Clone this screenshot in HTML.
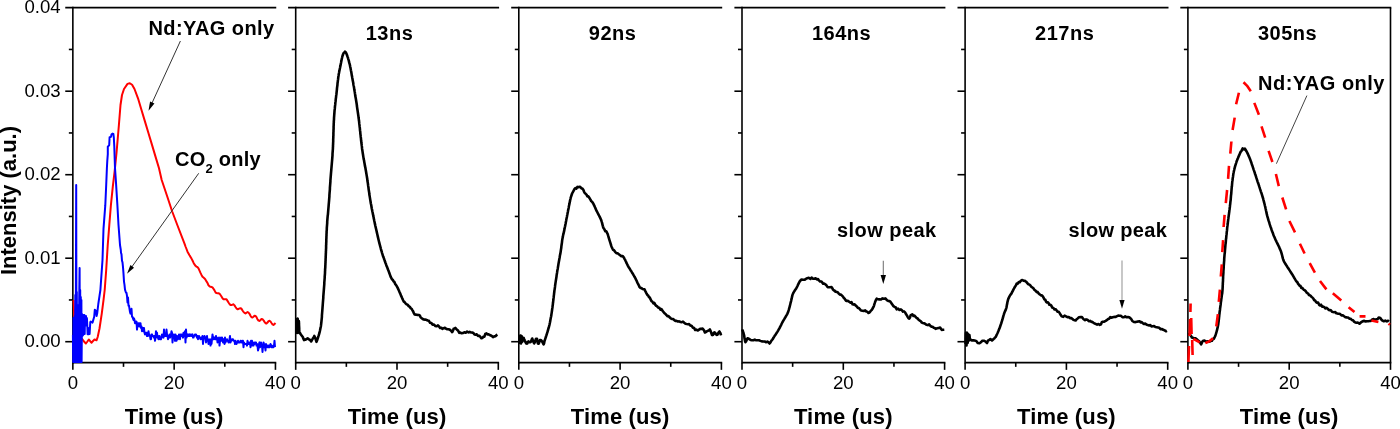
<!DOCTYPE html>
<html><head><meta charset="utf-8"><style>
html,body{margin:0;padding:0;background:#fff;width:1400px;height:429px;overflow:hidden}
svg{display:block;font-family:"Liberation Sans",sans-serif;will-change:transform}
</style></head><body>
<svg width="1400" height="429" viewBox="0 0 1400 429">
<g stroke="#000" stroke-width="1.6" fill="none"><line x1="72.85" y1="6.85" x2="72.85" y2="363.45"/><line x1="65.25" y1="7.65" x2="276.25" y2="7.65"/><line x1="72.85" y1="362.65" x2="276.25" y2="362.65"/><line x1="65.25" y1="91.20" x2="72.85" y2="91.20"/><line x1="65.25" y1="174.70" x2="72.85" y2="174.70"/><line x1="65.25" y1="258.20" x2="72.85" y2="258.20"/><line x1="65.25" y1="341.70" x2="72.85" y2="341.70"/><line x1="68.85" y1="49.45" x2="72.85" y2="49.45"/><line x1="68.85" y1="132.95" x2="72.85" y2="132.95"/><line x1="68.85" y1="216.45" x2="72.85" y2="216.45"/><line x1="68.85" y1="299.95" x2="72.85" y2="299.95"/><line x1="72.85" y1="362.65" x2="72.85" y2="369.85"/><line x1="174.15" y1="362.65" x2="174.15" y2="369.85"/><line x1="275.45" y1="362.65" x2="275.45" y2="369.85"/><line x1="123.50" y1="362.65" x2="123.50" y2="366.85"/><line x1="224.80" y1="362.65" x2="224.80" y2="366.85"/></g>
<g font-size="18.6" fill="#000"><text x="72.85" y="388.8" text-anchor="middle">0</text><text x="174.15" y="388.8" text-anchor="middle">20</text><text x="275.45" y="388.8" text-anchor="middle">40</text></g>
<text x="174.15" y="424" text-anchor="middle" font-size="22" font-weight="bold" letter-spacing="0.15">Time (us)</text>
<g stroke="#000" stroke-width="1.6" fill="none"><line x1="295.70" y1="6.85" x2="295.70" y2="363.45"/><line x1="288.10" y1="7.65" x2="499.10" y2="7.65"/><line x1="295.70" y1="362.65" x2="499.10" y2="362.65"/><line x1="288.10" y1="91.20" x2="295.70" y2="91.20"/><line x1="288.10" y1="174.70" x2="295.70" y2="174.70"/><line x1="288.10" y1="258.20" x2="295.70" y2="258.20"/><line x1="288.10" y1="341.70" x2="295.70" y2="341.70"/><line x1="291.70" y1="49.45" x2="295.70" y2="49.45"/><line x1="291.70" y1="132.95" x2="295.70" y2="132.95"/><line x1="291.70" y1="216.45" x2="295.70" y2="216.45"/><line x1="291.70" y1="299.95" x2="295.70" y2="299.95"/><line x1="295.70" y1="362.65" x2="295.70" y2="369.85"/><line x1="397.00" y1="362.65" x2="397.00" y2="369.85"/><line x1="498.30" y1="362.65" x2="498.30" y2="369.85"/><line x1="346.35" y1="362.65" x2="346.35" y2="366.85"/><line x1="447.65" y1="362.65" x2="447.65" y2="366.85"/></g>
<g font-size="18.6" fill="#000"><text x="295.70" y="388.8" text-anchor="middle">0</text><text x="397.00" y="388.8" text-anchor="middle">20</text><text x="498.30" y="388.8" text-anchor="middle">40</text></g>
<text x="397.00" y="424" text-anchor="middle" font-size="22" font-weight="bold" letter-spacing="0.15">Time (us)</text>
<g stroke="#000" stroke-width="1.6" fill="none"><line x1="518.80" y1="6.85" x2="518.80" y2="363.45"/><line x1="511.20" y1="7.65" x2="722.20" y2="7.65"/><line x1="518.80" y1="362.65" x2="722.20" y2="362.65"/><line x1="511.20" y1="91.20" x2="518.80" y2="91.20"/><line x1="511.20" y1="174.70" x2="518.80" y2="174.70"/><line x1="511.20" y1="258.20" x2="518.80" y2="258.20"/><line x1="511.20" y1="341.70" x2="518.80" y2="341.70"/><line x1="514.80" y1="49.45" x2="518.80" y2="49.45"/><line x1="514.80" y1="132.95" x2="518.80" y2="132.95"/><line x1="514.80" y1="216.45" x2="518.80" y2="216.45"/><line x1="514.80" y1="299.95" x2="518.80" y2="299.95"/><line x1="518.80" y1="362.65" x2="518.80" y2="369.85"/><line x1="620.10" y1="362.65" x2="620.10" y2="369.85"/><line x1="721.40" y1="362.65" x2="721.40" y2="369.85"/><line x1="569.45" y1="362.65" x2="569.45" y2="366.85"/><line x1="670.75" y1="362.65" x2="670.75" y2="366.85"/></g>
<g font-size="18.6" fill="#000"><text x="518.80" y="388.8" text-anchor="middle">0</text><text x="620.10" y="388.8" text-anchor="middle">20</text><text x="721.40" y="388.8" text-anchor="middle">40</text></g>
<text x="620.10" y="424" text-anchor="middle" font-size="22" font-weight="bold" letter-spacing="0.15">Time (us)</text>
<g stroke="#000" stroke-width="1.6" fill="none"><line x1="742.00" y1="6.85" x2="742.00" y2="363.45"/><line x1="734.40" y1="7.65" x2="945.40" y2="7.65"/><line x1="742.00" y1="362.65" x2="945.40" y2="362.65"/><line x1="734.40" y1="91.20" x2="742.00" y2="91.20"/><line x1="734.40" y1="174.70" x2="742.00" y2="174.70"/><line x1="734.40" y1="258.20" x2="742.00" y2="258.20"/><line x1="734.40" y1="341.70" x2="742.00" y2="341.70"/><line x1="738.00" y1="49.45" x2="742.00" y2="49.45"/><line x1="738.00" y1="132.95" x2="742.00" y2="132.95"/><line x1="738.00" y1="216.45" x2="742.00" y2="216.45"/><line x1="738.00" y1="299.95" x2="742.00" y2="299.95"/><line x1="742.00" y1="362.65" x2="742.00" y2="369.85"/><line x1="843.30" y1="362.65" x2="843.30" y2="369.85"/><line x1="944.60" y1="362.65" x2="944.60" y2="369.85"/><line x1="792.65" y1="362.65" x2="792.65" y2="366.85"/><line x1="893.95" y1="362.65" x2="893.95" y2="366.85"/></g>
<g font-size="18.6" fill="#000"><text x="742.00" y="388.8" text-anchor="middle">0</text><text x="843.30" y="388.8" text-anchor="middle">20</text><text x="944.60" y="388.8" text-anchor="middle">40</text></g>
<text x="843.30" y="424" text-anchor="middle" font-size="22" font-weight="bold" letter-spacing="0.15">Time (us)</text>
<g stroke="#000" stroke-width="1.6" fill="none"><line x1="965.10" y1="6.85" x2="965.10" y2="363.45"/><line x1="957.50" y1="7.65" x2="1168.50" y2="7.65"/><line x1="965.10" y1="362.65" x2="1168.50" y2="362.65"/><line x1="957.50" y1="91.20" x2="965.10" y2="91.20"/><line x1="957.50" y1="174.70" x2="965.10" y2="174.70"/><line x1="957.50" y1="258.20" x2="965.10" y2="258.20"/><line x1="957.50" y1="341.70" x2="965.10" y2="341.70"/><line x1="961.10" y1="49.45" x2="965.10" y2="49.45"/><line x1="961.10" y1="132.95" x2="965.10" y2="132.95"/><line x1="961.10" y1="216.45" x2="965.10" y2="216.45"/><line x1="961.10" y1="299.95" x2="965.10" y2="299.95"/><line x1="965.10" y1="362.65" x2="965.10" y2="369.85"/><line x1="1066.40" y1="362.65" x2="1066.40" y2="369.85"/><line x1="1167.70" y1="362.65" x2="1167.70" y2="369.85"/><line x1="1015.75" y1="362.65" x2="1015.75" y2="366.85"/><line x1="1117.05" y1="362.65" x2="1117.05" y2="366.85"/></g>
<g font-size="18.6" fill="#000"><text x="965.10" y="388.8" text-anchor="middle">0</text><text x="1066.40" y="388.8" text-anchor="middle">20</text><text x="1167.70" y="388.8" text-anchor="middle">40</text></g>
<text x="1066.40" y="424" text-anchor="middle" font-size="22" font-weight="bold" letter-spacing="0.15">Time (us)</text>
<g stroke="#000" stroke-width="1.6" fill="none"><line x1="1187.90" y1="6.85" x2="1187.90" y2="363.45"/><line x1="1180.30" y1="7.65" x2="1391.30" y2="7.65"/><line x1="1187.90" y1="362.65" x2="1391.30" y2="362.65"/><line x1="1180.30" y1="91.20" x2="1187.90" y2="91.20"/><line x1="1180.30" y1="174.70" x2="1187.90" y2="174.70"/><line x1="1180.30" y1="258.20" x2="1187.90" y2="258.20"/><line x1="1180.30" y1="341.70" x2="1187.90" y2="341.70"/><line x1="1183.90" y1="49.45" x2="1187.90" y2="49.45"/><line x1="1183.90" y1="132.95" x2="1187.90" y2="132.95"/><line x1="1183.90" y1="216.45" x2="1187.90" y2="216.45"/><line x1="1183.90" y1="299.95" x2="1187.90" y2="299.95"/><line x1="1187.90" y1="362.65" x2="1187.90" y2="369.85"/><line x1="1289.20" y1="362.65" x2="1289.20" y2="369.85"/><line x1="1390.50" y1="362.65" x2="1390.50" y2="369.85"/><line x1="1238.55" y1="362.65" x2="1238.55" y2="366.85"/><line x1="1339.85" y1="362.65" x2="1339.85" y2="366.85"/><line x1="1390.50" y1="7.65" x2="1390.50" y2="362.65"/></g>
<g font-size="18.6" fill="#000"><text x="1187.90" y="388.8" text-anchor="middle">0</text><text x="1289.20" y="388.8" text-anchor="middle">20</text><text x="1390.50" y="388.8" text-anchor="middle">40</text></g>
<text x="1289.20" y="424" text-anchor="middle" font-size="22" font-weight="bold" letter-spacing="0.15">Time (us)</text>
<g font-size="18.6" fill="#000"><text x="60.6" y="13.10" text-anchor="end">0.04</text><text x="60.6" y="96.60" text-anchor="end">0.03</text><text x="60.6" y="180.10" text-anchor="end">0.02</text><text x="60.6" y="263.60" text-anchor="end">0.01</text><text x="60.6" y="347.10" text-anchor="end">0.00</text></g>
<text transform="translate(16.3,200.5) rotate(-90)" text-anchor="middle" font-size="22" font-weight="bold">Intensity (a.u.)</text>
<text x="365.7" y="39.8" font-size="20" font-weight="bold" letter-spacing="0.5">13ns</text>
<text x="588.8" y="39.8" font-size="20" font-weight="bold" letter-spacing="0.5">92ns</text>
<text x="812.0" y="39.8" font-size="20" font-weight="bold" letter-spacing="0.5">164ns</text>
<text x="1035.1" y="39.8" font-size="20" font-weight="bold" letter-spacing="0.5">217ns</text>
<text x="1257.9" y="39.8" font-size="20" font-weight="bold" letter-spacing="0.5">305ns</text>
<polyline stroke="#ff0000" stroke-width="2" fill="none" stroke-linejoin="round" points="73.5,300.0 74.2,315.0 74.6,330.0 76.0,336.0 78.0,338.0 80.5,339.0 82.2,339.0 84.0,341.5 85.9,343.5 87.4,341.5 88.8,339.5 90.2,341.2 91.6,342.7 93.0,341.0 94.5,339.5 96.5,340.3 97.7,337.0 99.5,328.5 101.8,313.3 103.6,299.3 104.7,290.0 106.2,270.0 107.7,245.5 109.3,225.0 110.9,205.2 112.8,186.7 114.6,171.7 116.5,153.0 118.9,125.0 120.5,105.0 122.0,95.0 124.0,89.0 127.5,83.9 129.8,83.2 132.1,84.8 134.5,89.0 138.0,98.3 141.5,110.0 145.0,121.6 148.5,133.3 152.0,144.9 155.5,156.6 159.0,168.2 161.7,180.0 167.0,195.7 172.2,211.5 177.5,225.5 184.5,243.6 185.5,246.5 186.5,249.0 187.5,251.7 188.5,253.5 189.5,255.3 190.5,256.9 191.5,258.6 192.5,260.5 193.5,262.7 194.5,264.4 195.5,265.8 196.5,266.6 197.5,267.2 198.5,268.4 199.5,270.6 200.5,272.9 201.5,274.9 202.5,276.7 203.5,277.5 204.5,278.4 205.5,279.7 206.5,281.4 207.5,283.0 208.5,285.3 209.5,286.3 210.5,286.8 211.5,287.0 212.5,287.4 213.5,288.8 214.5,290.4 215.5,292.4 216.5,293.1 217.5,293.3 218.5,293.3 219.5,293.7 220.5,295.0 221.5,296.5 222.5,298.2 223.5,299.2 224.5,299.3 225.5,299.3 226.5,299.3 227.5,300.9 228.5,302.5 229.5,304.0 230.5,305.1 231.5,305.1 232.5,304.6 233.5,304.3 234.5,305.4 235.5,307.0 236.5,308.4 237.5,309.3 238.5,309.0 239.5,308.4 240.5,308.2 241.5,308.7 242.5,310.5 243.5,311.8 244.5,312.9 245.5,313.5 246.5,312.7 247.5,312.0 248.5,312.6 249.5,313.8 250.5,315.8 251.5,317.3 252.5,317.4 253.5,316.7 254.5,315.7 255.5,316.0 256.5,317.1 257.5,319.3 258.5,320.5 259.5,320.9 260.5,320.0 261.5,319.0 262.5,319.2 263.5,320.3 264.5,321.9 265.5,323.2 266.5,323.5 267.5,322.6 268.5,321.1 269.5,320.8 270.5,321.5 271.5,323.0 272.5,324.4 273.5,325.0 274.5,324.1 275.5,323.0"/>
<polyline stroke="#0000ff" stroke-width="2" fill="none" stroke-linejoin="round" points="72.9,335.0 73.2,362.0 73.5,318.0 73.8,362.0 74.1,320.0 74.4,362.0 74.7,316.0 75.0,362.0 75.3,295.0 75.6,362.0 75.9,290.0 76.2,185.0 76.5,362.0 76.8,292.0 77.1,362.0 77.4,305.0 77.7,362.0 78.0,306.0 78.3,362.0 78.6,305.0 78.9,362.0 79.2,300.0 79.6,268.0 79.9,362.0 80.2,290.0 80.5,362.0 80.8,297.0 81.1,362.0 81.4,300.0 81.6,362.0 82.0,314.0 82.4,336.0 82.8,315.0 83.2,335.0 83.6,315.0 84.0,334.0 84.4,315.0 84.7,334.0 85.0,316.0 85.5,325.5 86.0,316.0 86.5,325.5 86.9,318.0 87.3,326.0 87.6,334.3 88.4,334.3 89.0,328.0 89.6,334.0 90.3,322.0 90.7,321.5 92.5,322.6 94.2,316.8 94.8,309.8 96.0,311.0 96.6,316.0 97.2,313.3 98.3,304.0 99.5,295.8 100.4,290.0 102.5,260.0 103.5,228.8 105.3,205.2 106.2,185.0 106.9,168.0 107.3,160.6 107.8,154.1 107.8,146.6 109.2,145.2 109.6,137.3 111.0,136.9 111.5,134.5 112.4,133.6 113.4,134.0 113.8,137.3 114.3,146.6 114.6,155.9 115.0,168.0 115.9,181.1 117.4,205.2 118.5,225.0 120.0,245.0 120.8,250.0 121.0,252.8 121.5,254.4 122.0,260.8 122.5,262.4 123.0,267.2 123.5,273.6 124.0,281.6 124.5,284.8 125.0,289.6 125.5,291.2 126.0,292.8 126.5,292.8 127.0,296.0 127.5,302.4 128.0,297.6 128.5,305.6 129.0,305.6 129.5,308.8 130.0,312.0 130.5,313.6 131.0,312.0 131.5,308.8 132.0,316.8 132.5,316.8 133.0,318.4 133.5,320.0 134.0,318.4 134.5,320.0 135.0,323.2 135.5,321.6 136.0,323.2 136.5,321.6 137.0,329.6 137.5,323.2 138.0,324.8 138.5,323.2 139.0,326.4 139.5,326.4 140.0,323.2 140.5,323.2 141.0,328.0 141.5,326.4 142.0,331.2 142.5,329.6 143.0,328.0 143.5,331.2 144.0,328.0 144.5,332.8 145.0,334.4 145.5,332.8 146.0,334.4 146.5,332.8 147.0,336.0 147.5,336.0 148.0,336.0 148.5,331.2 149.0,334.4 149.5,334.4 150.0,336.0 150.5,339.2 151.0,339.2 151.5,336.0 152.0,334.4 152.5,336.0 153.0,336.0 153.5,336.0 154.0,337.6 154.5,336.0 155.0,340.8 155.5,337.6 156.0,331.2 156.5,336.0 157.0,332.8 157.5,337.6 158.0,337.6 158.5,339.2 159.0,336.0 159.5,336.0 160.0,339.2 160.5,337.6 161.0,339.2 161.5,337.6 162.0,334.4 162.5,336.0 163.0,336.0 163.5,337.6 164.0,329.6 164.5,336.0 165.0,334.4 165.5,336.0 166.0,336.0 166.5,329.6 167.0,334.4 167.5,336.0 168.0,339.2 168.5,337.6 169.0,337.6 169.5,334.4 170.0,337.6 170.5,336.0 171.0,334.4 171.5,331.2 172.0,332.8 172.5,342.4 173.0,336.0 173.5,334.4 174.0,334.4 174.5,336.0 175.0,340.8 175.5,334.4 176.0,337.6 176.5,340.8 177.0,336.0 177.5,339.2 178.0,339.2 178.5,337.6 179.0,334.4 179.5,337.6 180.0,339.2 180.5,334.4 181.0,336.0 181.5,334.4 182.0,334.4 182.5,336.0 183.0,337.6 183.5,332.8 184.0,336.0 184.5,334.4 185.0,331.2 185.5,342.4 186.0,329.6 186.5,337.6 187.0,336.0 187.5,336.0 188.0,334.4 188.5,336.0 189.0,336.0 189.5,334.4 190.0,336.0 190.5,334.4 191.0,334.4 191.5,336.0 192.0,336.0 192.5,334.4 193.0,337.6 193.5,337.6 194.0,336.0 194.5,336.0 195.0,334.4 195.5,334.4 196.0,334.4 196.5,336.0 197.0,337.6 197.5,336.0 198.0,339.2 198.5,337.6 199.0,336.0 199.5,337.6 200.0,337.6 200.5,339.2 201.0,337.6 201.5,337.6 202.0,339.2 202.5,336.0 203.0,344.0 203.5,337.6 204.0,337.6 204.5,336.0 205.0,337.6 205.5,339.2 206.0,342.4 206.5,337.6 207.0,336.0 207.5,340.8 208.0,339.2 208.5,344.0 209.0,340.8 209.5,342.4 210.0,339.2 210.5,345.6 211.0,340.8 211.5,344.0 212.0,339.2 212.5,334.4 213.0,337.6 213.5,339.2 214.0,337.6 214.5,337.6 215.0,339.2 215.5,339.2 216.0,336.0 216.5,339.2 217.0,337.6 217.5,342.4 218.0,339.2 218.5,340.8 219.0,337.6 219.5,345.6 220.0,340.8 220.5,339.2 221.0,337.6 221.5,340.8 222.0,337.6 222.5,339.2 223.0,342.4 223.5,339.2 224.0,339.2 224.5,344.0 225.0,337.6 225.5,342.4 226.0,340.8 226.5,340.8 227.0,339.2 227.5,340.8 228.0,340.8 228.5,342.4 229.0,342.4 229.5,339.2 230.0,336.0 230.5,342.4 231.0,340.8 231.5,340.8 232.0,339.2 232.5,339.2 233.0,339.2 233.5,340.8 234.0,340.8 234.5,340.8 235.0,344.0 235.5,340.8 236.0,342.4 236.5,344.0 237.0,342.4 237.5,342.4 238.0,340.8 238.5,342.4 239.0,342.4 239.5,342.4 240.0,342.4 240.5,340.8 241.0,340.8 241.5,342.4 242.0,342.4 242.5,340.8 243.0,340.8 243.5,347.2 244.0,342.4 244.5,344.0 245.0,344.0 245.5,344.0 246.0,344.0 246.5,344.0 247.0,345.6 247.5,340.8 248.0,344.0 248.5,342.4 249.0,344.0 249.5,342.4 250.0,342.4 250.5,347.2 251.0,340.8 251.5,345.6 252.0,340.8 252.5,345.6 253.0,345.6 253.5,345.6 254.0,342.4 254.5,344.0 255.0,342.4 255.5,342.4 256.0,342.4 256.5,345.6 257.0,344.0 257.5,345.6 258.0,350.4 258.5,348.8 259.0,344.0 259.5,342.4 260.0,347.2 260.5,345.6 261.0,342.4 261.5,345.6 262.0,345.6 262.5,352.0 263.0,345.6 263.5,342.4 264.0,344.0 264.5,347.2 265.0,345.6 265.5,350.4 266.0,344.0 266.5,345.6 267.0,345.6 267.5,347.2 268.0,345.6 268.5,347.2 269.0,345.6 269.5,347.2 270.0,345.6 270.5,344.0 271.0,345.6 271.5,347.2 272.0,345.6 272.5,347.2 273.0,347.2 273.5,347.2 274.0,345.6 274.5,340.8 275.0,347.2"/>
<polyline stroke="#000" stroke-width="2.6" fill="none" stroke-linejoin="round" points="296.6,318.0 296.6,318.8 296.7,320.0 296.7,321.4 296.7,323.0 296.8,324.7 296.8,326.4 296.9,328.1 296.9,329.6 297.0,331.0 297.0,332.0 297.1,332.7 297.1,332.9 297.1,332.7 297.2,332.0 297.2,330.8 297.3,329.4 297.3,327.7 297.3,325.9 297.4,324.1 297.4,322.4 297.5,320.9 297.5,319.7 297.6,318.9 297.6,318.6 297.7,318.8 297.7,319.6 297.8,321.0 297.8,322.6 297.9,324.5 298.0,326.3 298.0,328.1 298.1,329.5 298.1,330.5 298.2,331.7 298.3,330.7 298.3,329.6 298.4,327.9 298.5,326.0 298.6,324.1 298.6,322.5 298.7,321.4 298.8,320.9 298.9,321.4 298.9,322.2 299.0,323.4 299.0,324.8 299.1,326.4 299.2,328.0 299.2,329.6 299.3,331.0 299.3,332.2 299.4,333.0 300.1,333.1 300.7,334.3 301.4,335.2 302.8,337.0 303.4,338.7 304.1,340.1 305.1,339.8 306.3,339.3 307.6,338.4 309.0,339.4 310.1,340.0 311.2,341.5 311.9,340.1 312.8,338.6 313.6,337.5 314.3,335.9 314.9,337.3 315.5,338.8 316.0,340.3 316.5,341.8 317.1,340.2 317.7,338.5 318.3,336.6 318.7,335.4 319.1,334.1 319.5,332.7 319.9,331.0 320.1,330.0 320.3,329.0 320.5,327.9 320.8,326.7 321.0,325.4 321.2,323.7 321.4,321.8 321.5,320.9 321.6,319.9 321.7,318.9 321.8,317.9 321.9,316.8 321.9,315.6 322.0,314.4 322.1,313.2 322.2,312.0 322.3,310.7 322.4,309.4 322.5,308.1 322.6,306.7 322.7,305.4 322.8,304.0 322.9,302.7 323.0,301.3 323.1,300.2 323.2,299.0 323.3,297.9 323.3,296.7 323.4,295.4 323.5,294.2 323.6,292.9 323.7,291.7 323.8,290.4 323.9,289.1 324.0,287.8 324.1,286.5 324.2,285.3 324.3,284.0 324.3,282.7 324.4,281.5 324.5,280.3 324.6,279.0 324.7,277.9 324.7,276.7 324.8,275.6 324.9,274.3 325.0,273.0 325.0,271.8 325.1,270.6 325.1,269.4 325.2,268.3 325.3,267.1 325.3,266.0 325.4,264.9 325.4,263.8 325.5,262.6 325.5,261.5 325.6,260.3 325.6,259.0 325.7,257.7 325.7,256.4 325.8,255.0 325.8,253.9 325.9,252.8 325.9,251.7 326.0,250.5 326.0,249.3 326.1,248.1 326.1,246.9 326.1,245.7 326.2,244.4 326.2,243.2 326.3,241.9 326.3,240.6 326.3,239.3 326.4,238.1 326.4,236.8 326.5,235.5 326.5,234.2 326.6,233.0 326.6,231.7 326.7,230.5 326.8,229.3 326.8,228.1 326.9,226.9 327.0,225.6 327.1,224.4 327.2,223.1 327.2,221.9 327.3,220.6 327.4,219.4 327.5,218.2 327.6,217.0 327.7,215.8 327.9,214.6 328.0,213.3 328.1,212.1 328.2,210.9 328.3,209.7 328.4,208.5 328.5,207.3 328.6,206.1 328.7,204.9 328.8,203.7 328.9,202.5 329.0,201.3 329.1,200.1 329.2,198.9 329.3,197.6 329.4,196.4 329.4,195.2 329.5,194.0 329.6,192.7 329.7,191.5 329.8,190.3 329.9,189.1 329.9,187.8 330.0,186.6 330.1,185.4 330.2,184.2 330.3,182.9 330.4,181.7 330.4,180.5 330.5,179.3 330.6,178.0 330.7,176.8 330.8,175.6 330.9,174.4 331.0,173.2 331.1,172.0 331.2,170.8 331.3,169.7 331.4,168.5 331.5,167.3 331.6,166.2 331.7,165.0 331.8,163.8 331.9,162.7 332.0,161.5 332.1,160.3 332.2,159.1 332.3,157.9 332.4,156.6 332.5,155.3 332.5,154.0 332.6,152.7 332.7,151.4 332.8,150.0 332.9,148.9 332.9,147.8 333.0,146.6 333.0,145.4 333.1,144.2 333.1,143.0 333.2,141.8 333.2,140.5 333.2,139.2 333.3,138.0 333.3,136.7 333.4,135.4 333.4,134.1 333.4,132.8 333.5,131.5 333.5,130.2 333.6,128.9 333.6,127.7 333.6,126.4 333.7,125.1 333.7,123.9 333.8,122.7 333.8,121.5 333.9,120.3 334.0,119.1 334.0,118.0 334.1,116.9 334.2,115.5 334.3,114.1 334.4,112.8 334.5,111.4 334.6,110.1 334.8,108.7 334.9,107.4 335.0,106.1 335.2,104.9 335.3,103.6 335.4,102.4 335.6,101.2 335.7,100.0 335.8,98.8 336.0,97.6 336.1,96.5 336.2,95.4 336.4,94.4 336.5,93.3 336.6,92.3 336.7,91.3 336.9,89.6 337.0,88.1 337.2,86.6 337.4,85.3 337.5,83.9 337.6,82.7 337.8,81.5 337.9,80.4 338.1,79.2 338.2,78.1 338.3,77.1 338.5,76.0 338.7,74.5 339.0,73.0 339.2,71.7 339.5,70.4 339.7,69.2 340.0,68.0 340.2,66.8 340.5,65.6 340.7,64.3 341.0,63.0 341.2,61.7 341.5,60.4 341.7,59.2 342.0,58.0 342.2,57.0 342.5,56.0 343.1,54.3 343.7,52.9 344.3,52.6 344.9,51.7 345.5,52.1 346.1,52.9 346.7,54.3 347.3,56.0 347.6,56.9 348.0,58.0 348.3,59.1 348.7,60.3 349.0,61.6 349.3,62.9 349.7,64.2 350.0,65.6 350.2,66.7 350.5,67.9 350.7,69.1 350.9,70.3 351.2,71.6 351.4,72.8 351.6,74.1 351.8,75.4 352.1,76.7 352.3,78.0 352.5,79.1 352.7,80.2 352.9,81.2 353.1,82.3 353.3,83.3 353.4,84.4 353.6,85.5 353.9,86.8 354.1,88.1 354.3,89.6 354.6,91.3 354.8,92.2 354.9,93.2 355.1,94.2 355.2,95.3 355.4,96.4 355.6,97.5 355.8,98.6 356.0,99.8 356.2,101.0 356.4,102.2 356.6,103.5 356.8,104.8 356.9,106.0 357.1,107.4 357.3,108.7 357.5,110.0 357.7,111.4 357.9,112.7 358.1,114.1 358.3,115.5 358.5,116.9 358.6,118.0 358.8,119.1 358.9,120.3 359.1,121.5 359.2,122.7 359.3,123.9 359.5,125.1 359.6,126.4 359.8,127.7 359.9,128.9 360.0,130.2 360.2,131.5 360.3,132.8 360.4,134.1 360.6,135.4 360.7,136.7 360.9,138.0 361.0,139.2 361.1,140.5 361.3,141.8 361.4,143.0 361.6,144.2 361.7,145.4 361.9,146.6 362.0,147.8 362.1,148.9 362.3,150.0 362.5,151.4 362.7,152.7 362.9,154.0 363.1,155.3 363.3,156.6 363.5,157.9 363.7,159.1 364.0,160.3 364.2,161.5 364.4,162.7 364.6,163.8 364.8,165.0 365.0,166.2 365.3,167.3 365.5,168.5 365.7,169.7 365.9,170.8 366.1,172.0 366.3,173.2 366.5,174.4 366.7,175.6 366.9,176.8 367.1,178.0 367.3,179.3 367.4,180.5 367.6,181.7 367.8,182.9 368.0,184.2 368.1,185.4 368.3,186.6 368.5,187.8 368.6,189.1 368.8,190.3 369.0,191.5 369.2,192.7 369.3,194.0 369.5,195.2 369.7,196.4 369.9,197.6 370.1,198.9 370.3,200.1 370.5,201.3 370.7,202.5 370.9,203.8 371.2,205.0 371.4,206.2 371.6,207.5 371.8,208.7 372.1,209.9 372.3,211.2 372.6,212.4 372.8,213.6 373.1,214.9 373.3,216.1 373.6,217.3 373.8,218.6 374.1,219.8 374.3,221.0 374.6,222.2 374.8,223.4 375.1,224.6 375.3,225.7 375.6,226.9 375.9,228.2 376.2,229.5 376.5,230.8 376.8,232.1 377.1,233.5 377.4,234.8 377.7,236.1 378.0,237.4 378.3,238.7 378.6,240.0 378.9,241.2 379.2,242.4 379.5,243.6 379.8,244.8 380.1,245.9 380.4,247.0 380.7,248.1 380.9,249.1 381.2,250.0 381.7,251.6 382.1,253.1 382.5,254.3 382.8,255.5 383.2,256.6 383.6,257.5 383.9,258.5 384.3,259.5 384.6,260.5 385.0,261.5 385.4,262.7 385.9,263.9 386.3,265.2 386.8,266.4 387.3,267.6 387.7,268.7 388.1,269.8 388.5,270.8 388.9,271.8 389.4,273.3 389.9,274.6 390.3,275.7 390.7,276.9 391.4,278.2 392.0,279.3 392.8,279.8 393.6,281.5 394.4,281.9 395.2,283.9 396.0,285.0 396.6,285.9 397.4,287.3 397.9,288.4 398.4,289.5 399.1,291.0 399.5,292.0 400.0,293.1 400.5,294.3 401.0,295.6 401.6,296.8 402.1,298.0 402.6,299.1 403.0,300.0 403.8,301.6 404.5,302.0 405.5,303.3 406.4,304.2 407.5,304.6 408.7,306.1 409.8,306.8 410.7,308.2 411.8,309.0 412.5,310.3 413.2,311.5 413.8,313.1 414.7,314.5 415.8,314.6 417.3,314.9 418.8,315.0 419.7,315.4 420.7,317.4 421.8,318.4 422.8,319.0 423.7,319.5 425.1,319.6 426.3,319.8 427.7,320.5 428.9,320.8 430.1,322.8 431.4,323.1 432.6,324.6 434.0,324.5 435.2,325.9 436.7,326.3 437.8,325.4 438.9,326.2 440.1,327.9 441.3,327.7 442.4,328.9 443.7,328.2 444.9,327.8 446.1,328.8 447.3,329.3 448.6,329.2 449.9,329.7 451.2,330.9 452.2,332.1 453.1,330.4 453.6,328.8 454.6,328.5 455.3,327.9 456.2,328.9 457.1,329.8 458.2,330.8 459.3,332.9 460.4,332.5 461.6,333.3 462.9,333.0 464.3,332.3 465.7,332.8 467.1,331.6 468.5,332.4 469.7,331.8 470.9,332.5 472.1,332.5 473.4,333.0 474.5,334.5 475.7,334.7 476.7,334.3 478.0,335.9 479.2,335.7 480.4,336.9 481.4,338.3 482.4,338.1 483.5,336.6 484.4,336.6 485.3,334.0 486.5,333.4 487.5,334.4 488.6,334.3 489.7,335.0 490.9,335.5 492.0,336.1 493.0,337.2 494.4,336.4 495.6,336.2 496.7,335.0 497.4,334.6"/>
<polyline stroke="#000" stroke-width="2.6" fill="none" stroke-linejoin="round" points="519.3,336.0 519.4,337.2 519.5,339.0 519.6,340.9 519.7,342.4 519.8,342.9 519.9,342.3 520.0,340.8 520.1,338.9 520.2,337.0 520.3,335.6 520.4,335.7 520.5,335.5 520.6,336.7 520.7,338.3 520.7,340.1 520.8,341.8 520.9,343.0 521.0,343.5 521.1,343.0 521.2,341.7 521.3,340.0 521.4,338.2 521.5,336.7 521.6,336.1 521.8,336.5 521.9,338.2 522.1,340.0 522.3,341.6 522.9,339.6 523.7,337.9 524.2,339.2 524.8,340.6 525.5,342.1 526.2,343.5 526.7,343.6 527.3,343.5 527.9,341.8 528.4,341.4 529.5,342.1 530.5,342.1 531.1,341.4 531.6,339.8 532.2,338.5 532.8,340.1 533.5,342.1 534.2,343.5 534.8,342.2 535.4,340.5 536.0,338.8 536.6,338.8 537.0,338.8 537.3,340.3 537.6,342.0 537.9,343.5 538.3,343.7 538.8,343.5 539.4,341.8 540.0,340.1 540.7,340.0 541.4,340.6 542.2,341.6 543.0,343.3 543.6,344.4 544.1,343.2 544.5,341.0 545.0,339.6 545.5,338.1 546.0,336.5 546.4,335.4 546.7,334.3 547.1,333.1 547.6,331.6 547.9,330.7 548.1,329.7 548.4,328.6 548.8,327.5 549.1,326.3 549.4,325.1 549.7,323.7 550.0,322.3 550.2,321.2 550.4,320.1 550.6,318.9 550.8,317.8 551.1,316.5 551.3,315.2 551.5,313.9 551.7,312.6 551.9,311.2 552.1,309.8 552.3,308.3 552.5,307.2 552.6,306.0 552.8,304.8 552.9,303.6 553.1,302.3 553.2,301.1 553.4,299.8 553.5,298.5 553.7,297.2 553.8,295.9 554.0,294.6 554.1,293.3 554.3,292.0 554.4,290.8 554.6,289.6 554.8,288.2 555.0,286.9 555.1,285.6 555.3,284.2 555.5,282.9 555.7,281.6 555.9,280.3 556.1,279.1 556.3,277.8 556.5,276.6 556.6,275.4 556.8,274.2 557.0,273.0 557.2,271.6 557.4,270.3 557.7,268.9 557.9,267.6 558.1,266.3 558.3,265.1 558.5,263.8 558.7,262.6 558.9,261.5 559.1,260.4 559.3,259.3 559.6,257.8 559.8,256.4 560.0,255.1 560.3,253.9 560.5,252.7 560.7,251.4 560.9,250.0 561.1,248.8 561.3,247.5 561.4,246.2 561.6,244.8 561.8,243.5 562.0,242.1 562.1,240.9 562.3,239.6 562.5,238.5 562.8,237.1 563.0,235.9 563.2,234.8 563.5,233.7 563.8,232.4 564.2,230.6 564.4,229.6 564.6,228.6 564.8,227.4 565.1,226.2 565.3,225.0 565.6,223.7 565.8,222.4 566.1,221.0 566.3,219.7 566.6,218.3 566.9,217.0 567.1,215.6 567.4,214.3 567.6,213.1 567.9,211.8 568.1,210.4 568.4,209.1 568.7,207.7 568.9,206.3 569.2,205.0 569.5,203.6 569.7,202.3 570.0,201.1 570.2,199.9 570.5,198.8 570.7,197.7 571.0,196.8 571.6,195.0 572.1,193.5 572.7,192.4 573.2,191.4 573.8,190.5 574.4,189.2 575.4,188.0 576.4,188.6 577.4,186.9 578.4,187.3 579.9,186.7 581.3,188.2 582.6,188.8 583.2,189.5 583.6,190.5 584.1,191.8 585.0,193.3 585.7,193.8 586.5,194.6 587.4,196.4 588.4,196.4 589.3,197.8 590.3,199.4 591.2,201.0 592.0,201.7 592.7,202.6 593.3,203.7 593.9,204.9 594.5,206.1 595.0,207.3 595.5,208.4 596.0,209.6 596.6,210.8 597.2,212.0 597.8,213.2 598.4,214.3 599.0,215.5 599.6,216.7 600.2,217.9 600.7,219.0 601.2,220.1 601.6,221.4 602.0,222.6 602.3,223.9 602.6,225.1 602.9,226.3 603.2,227.3 603.6,228.3 604.4,229.3 605.4,231.3 606.3,231.2 607.1,232.9 607.6,233.9 608.0,235.1 608.3,236.2 608.7,237.5 609.0,238.7 609.4,239.9 609.8,241.1 610.2,242.3 610.6,243.6 610.9,244.8 611.3,245.9 611.7,246.9 612.4,248.5 613.1,249.8 614.0,250.2 615.1,251.8 616.4,253.1 617.6,253.3 618.8,254.2 620.1,255.2 621.3,256.1 622.7,256.1 624.0,257.8 624.5,258.8 625.1,259.8 625.6,261.0 626.2,262.2 626.7,263.4 627.3,264.5 627.8,265.6 628.4,266.7 629.1,267.8 629.8,268.9 630.4,269.9 631.1,270.9 631.7,272.0 632.3,273.1 633.0,274.1 633.6,275.2 634.2,276.2 634.9,277.3 635.5,278.5 636.0,279.6 636.6,280.7 637.1,281.9 637.6,283.1 638.2,284.2 638.8,285.3 639.4,286.8 640.4,287.9 641.4,288.1 642.5,288.8 643.5,289.3 644.5,289.4 645.2,290.9 645.7,291.8 646.2,292.9 646.8,294.0 647.5,295.2 648.3,295.7 649.0,297.3 649.8,297.5 650.6,299.4 651.5,301.1 652.5,301.8 653.4,303.3 654.3,302.8 655.2,304.6 656.0,305.6 657.2,306.4 658.3,307.8 659.4,307.9 660.4,309.7 661.4,309.0 662.4,310.6 663.3,311.7 664.1,312.8 664.8,313.4 665.6,314.2 666.5,315.2 667.6,316.3 668.5,316.0 669.6,317.3 670.7,318.3 671.9,319.0 673.1,319.0 674.3,320.2 675.4,320.9 676.5,320.9 677.9,321.5 679.2,321.4 680.5,322.0 681.8,322.2 683.0,321.6 684.2,322.7 685.5,323.7 686.8,324.0 688.0,324.2 689.1,324.1 690.0,325.2 691.1,325.7 691.9,326.2 692.8,327.7 693.9,327.7 695.2,330.0 696.3,329.6 697.7,330.5 699.1,329.7 700.2,328.7 701.4,328.9 702.6,328.6 703.4,329.6 704.1,330.6 704.9,332.5 705.7,332.1 706.7,331.4 707.8,330.8 708.9,330.5 709.9,329.5 710.5,330.8 711.0,332.1 711.5,333.6 712.0,335.0 712.4,335.1 713.1,334.8 713.8,332.9 714.5,332.4 715.2,332.8 715.8,334.1 716.6,334.9 717.5,334.8 718.5,332.6 719.4,331.5 720.1,332.6 720.7,334.1 721.1,335.3"/>
<polyline stroke="#000" stroke-width="2.6" fill="none" stroke-linejoin="round" points="742.2,329.3 742.5,330.2 743.0,331.5 743.4,333.0 743.9,334.6 744.2,335.8 744.4,337.3 744.6,338.8 744.9,340.2 745.1,341.3 745.4,342.2 746.0,341.5 746.7,339.9 747.5,338.3 748.9,338.8 750.6,339.9 751.9,340.2 753.4,340.2 754.8,339.6 756.2,340.3 757.6,340.3 759.0,340.3 760.4,340.9 761.8,341.4 763.2,341.5 764.7,341.5 766.2,342.2 767.4,341.5 768.6,342.5 769.5,343.5 770.5,342.3 771.6,340.4 772.2,339.8 772.9,338.9 773.5,337.7 774.2,336.6 774.8,335.6 775.5,334.7 776.2,333.6 776.9,332.5 777.5,331.6 778.1,330.6 778.7,329.5 779.4,328.4 780.0,327.2 780.6,326.0 781.2,324.8 781.8,323.5 782.5,322.2 783.2,320.9 783.8,319.9 784.4,318.9 785.0,317.8 785.7,316.7 786.3,315.6 786.9,314.6 787.4,313.6 788.0,312.3 788.4,311.1 788.8,309.9 789.1,308.7 789.5,307.3 789.8,306.2 790.1,305.0 790.4,303.7 790.7,302.4 791.1,301.1 791.3,300.0 791.6,298.9 791.9,297.4 792.2,296.1 792.5,294.9 793.0,293.6 793.5,292.6 794.1,291.6 794.8,290.5 795.5,289.4 796.2,288.4 796.8,287.3 797.5,286.0 798.1,284.6 798.8,283.2 799.4,282.0 800.0,281.0 801.5,279.5 803.1,279.8 804.5,279.8 805.9,278.9 807.3,278.2 808.8,277.8 810.5,278.9 811.6,277.6 813.0,278.7 814.4,278.6 815.8,278.4 816.8,279.4 818.0,279.1 818.9,280.4 820.1,281.5 821.5,281.5 823.1,283.6 824.1,283.5 825.2,284.3 826.3,285.1 827.4,286.9 828.3,287.2 830.0,287.3 831.5,287.1 832.3,288.2 833.0,289.6 833.8,290.4 834.6,290.6 835.6,291.8 836.6,291.9 837.7,292.2 838.8,293.6 839.9,294.7 841.0,294.6 842.0,295.6 843.0,296.6 843.9,298.1 844.7,298.8 845.4,299.9 846.2,300.9 847.9,300.9 849.5,302.0 850.5,302.7 851.5,302.2 852.6,304.3 853.6,304.6 854.6,304.3 855.7,305.5 856.8,306.5 857.9,307.9 858.9,308.0 860.0,309.3 861.0,310.5 862.4,310.7 863.9,311.0 865.2,310.4 866.3,311.5 867.4,311.7 868.4,313.0 869.5,312.6 870.5,311.2 871.5,310.2 872.3,309.0 872.9,308.0 873.6,306.7 874.0,305.6 874.4,304.2 874.9,302.7 875.3,301.4 875.7,300.4 876.7,298.7 877.8,299.3 879.3,299.4 881.0,299.5 882.5,298.4 884.1,298.8 885.4,298.4 886.9,300.1 888.3,301.0 889.4,301.1 890.4,301.7 891.5,303.4 892.5,304.7 893.5,306.2 894.6,306.9 895.6,307.2 896.7,309.3 898.1,308.6 899.5,310.0 900.9,309.4 901.9,310.2 903.0,311.6 904.0,311.4 905.1,312.4 906.0,314.1 906.9,315.4 907.8,317.1 908.6,318.4 909.3,318.6 910.1,317.3 910.6,315.3 911.4,314.8 912.3,314.3 913.4,315.9 914.5,315.6 915.6,316.8 916.6,318.0 917.7,318.5 918.8,320.0 919.8,320.6 920.8,321.3 921.8,322.6 922.8,322.9 924.0,323.2 925.1,323.7 926.4,324.7 927.8,325.1 929.1,324.3 930.3,325.8 931.5,326.6 932.6,326.8 933.7,327.7 934.7,327.9 935.6,328.9 937.2,328.3 938.7,327.9 940.1,327.5 941.7,329.9 942.9,329.8 944.3,329.7"/>
<polyline stroke="#000" stroke-width="2.6" fill="none" stroke-linejoin="round" points="965.6,344.0 965.6,343.1 965.7,341.9 965.7,340.3 965.7,338.6 965.8,336.9 965.8,335.4 965.9,334.1 965.9,333.3 966.0,332.8 966.0,333.4 966.1,334.3 966.1,335.7 966.2,337.3 966.2,339.1 966.3,340.9 966.3,342.5 966.4,343.8 966.4,344.7 966.5,345.5 966.5,344.6 966.6,343.7 966.6,342.4 966.7,340.7 966.7,338.9 966.8,337.1 966.8,335.4 966.9,334.0 966.9,333.0 967.0,332.7 967.1,332.9 967.1,334.1 967.2,335.7 967.3,337.6 967.4,339.5 967.4,341.2 967.5,342.5 967.6,343.0 967.7,342.6 967.8,341.4 967.9,339.7 967.9,337.8 968.0,336.0 968.1,334.6 968.2,334.3 968.3,334.6 968.4,336.3 968.6,338.4 968.7,340.2 968.8,340.3 968.9,340.5 969.0,339.0 969.2,337.2 969.3,335.7 969.4,335.1 969.5,335.6 969.7,337.2 969.8,338.9 970.0,339.9 970.7,339.7 972.1,340.5 973.6,340.3 975.4,340.7 976.6,341.3 977.7,342.9 979.5,343.3 980.9,342.3 982.4,340.7 983.9,340.8 985.3,341.4 987.0,343.0 987.5,341.9 988.1,340.5 988.8,340.3 990.4,339.1 992.0,340.5 993.6,339.0 994.3,338.5 995.0,337.5 995.7,337.0 996.4,335.4 997.1,334.0 997.8,332.5 998.3,331.3 998.8,330.0 999.4,328.6 999.9,327.2 1000.3,326.0 1000.7,324.8 1001.2,323.5 1001.6,322.2 1002.0,320.9 1002.4,319.7 1002.7,318.5 1003.1,317.2 1003.4,315.9 1003.8,314.7 1004.1,313.6 1004.6,312.2 1005.1,311.1 1005.7,309.9 1006.2,308.3 1006.5,307.3 1006.7,306.1 1006.9,304.9 1007.2,303.6 1007.4,302.3 1007.7,301.1 1008.0,299.9 1008.3,298.9 1008.9,297.6 1009.5,296.4 1010.2,295.2 1010.8,294.3 1011.4,293.6 1012.1,292.2 1012.8,290.8 1013.5,289.4 1014.1,288.4 1014.7,287.2 1015.4,286.1 1016.0,285.2 1016.7,283.6 1017.8,283.6 1018.8,282.0 1019.8,282.1 1020.8,280.8 1021.9,280.1 1023.4,280.6 1025.1,280.9 1026.1,281.7 1027.1,282.9 1028.2,284.2 1029.2,284.4 1030.2,285.2 1031.3,286.7 1032.4,287.5 1033.4,288.3 1034.4,289.9 1035.5,290.6 1036.6,292.1 1037.6,291.9 1038.7,293.5 1039.8,294.4 1040.9,295.4 1041.9,295.4 1042.8,296.4 1043.6,297.7 1044.4,299.5 1045.2,299.5 1046.1,301.8 1046.9,302.5 1047.7,302.2 1048.6,303.2 1049.4,304.8 1050.4,304.9 1051.3,305.6 1052.3,307.6 1053.4,307.9 1054.5,309.4 1055.6,309.2 1056.7,310.5 1057.6,311.8 1058.8,311.9 1059.8,313.4 1060.8,315.2 1061.8,316.4 1063.2,316.9 1064.6,315.6 1066.0,316.3 1067.4,317.1 1068.8,317.1 1070.2,318.1 1071.3,318.1 1072.5,319.0 1073.6,319.9 1074.6,320.3 1075.7,320.5 1076.6,319.3 1077.7,318.4 1079.0,317.2 1080.5,317.0 1081.9,317.1 1083.0,318.6 1084.0,319.5 1085.0,320.1 1086.1,319.4 1087.5,319.7 1088.8,321.3 1090.3,320.9 1091.3,321.9 1092.4,321.9 1093.5,322.8 1094.6,323.5 1095.6,323.9 1097.1,324.7 1098.5,324.0 1099.8,324.9 1100.9,324.4 1101.8,322.2 1102.9,321.7 1104.2,321.7 1105.7,320.8 1107.1,319.9 1108.1,319.1 1109.1,318.8 1110.2,317.1 1111.3,317.8 1112.6,317.3 1114.0,316.9 1115.4,317.0 1116.6,316.4 1118.2,315.6 1119.7,315.7 1121.0,315.8 1122.4,317.2 1123.9,317.3 1125.2,316.4 1126.6,317.3 1128.0,317.0 1129.2,317.2 1130.4,318.3 1131.3,319.1 1132.3,321.0 1133.9,322.0 1135.5,322.1 1136.9,321.7 1138.6,321.4 1139.5,321.2 1140.6,322.4 1141.7,322.1 1142.8,323.2 1143.9,324.0 1145.2,323.6 1146.4,324.5 1147.7,325.1 1149.1,325.4 1150.3,325.0 1151.5,326.5 1152.8,326.3 1154.1,326.1 1155.4,327.0 1156.7,327.2 1158.0,327.5 1159.3,327.8 1160.5,329.2 1161.7,329.0 1163.2,329.7 1164.7,330.4 1166.1,331.3 1167.0,330.9"/>
<polyline stroke="#000" stroke-width="2.6" fill="none" stroke-linejoin="round" points="1188.6,333.0 1189.5,334.2 1191.3,336.3 1191.9,337.6 1192.7,337.8 1194.0,338.3 1195.5,338.2 1196.7,339.2 1197.9,340.5 1199.0,341.1 1200.1,342.7 1201.1,344.4 1201.8,343.0 1202.4,341.6 1203.2,340.7 1204.5,340.6 1206.0,341.7 1207.7,341.2 1209.5,341.8 1210.7,340.9 1211.9,340.7 1213.0,338.9 1213.8,338.9 1214.4,337.7 1215.0,336.5 1215.5,335.2 1216.0,333.7 1216.5,332.0 1216.8,330.9 1217.1,329.7 1217.4,328.4 1217.8,326.9 1218.1,325.0 1218.3,324.0 1218.4,322.9 1218.6,321.7 1218.7,320.4 1218.9,319.1 1219.0,317.8 1219.2,316.4 1219.3,315.0 1219.5,313.6 1219.6,312.3 1219.8,311.0 1220.0,309.7 1220.1,308.4 1220.3,307.0 1220.5,305.6 1220.7,304.2 1220.8,302.9 1221.0,301.6 1221.2,300.3 1221.3,299.1 1221.5,298.0 1221.6,297.0 1221.8,295.4 1222.0,294.3 1222.2,293.4 1222.3,292.1 1222.5,290.0 1222.6,289.1 1222.6,288.1 1222.7,287.1 1222.7,285.9 1222.8,284.7 1222.8,283.5 1222.9,282.1 1223.0,280.8 1223.0,279.4 1223.1,278.1 1223.1,276.7 1223.2,275.3 1223.3,273.9 1223.4,272.6 1223.4,271.3 1223.5,270.0 1223.6,268.8 1223.7,267.5 1223.7,266.3 1223.8,265.1 1223.9,263.9 1224.0,262.7 1224.1,261.5 1224.2,260.3 1224.2,259.1 1224.3,257.9 1224.4,256.6 1224.5,255.4 1224.6,254.1 1224.8,252.8 1224.9,251.4 1225.0,250.0 1225.1,248.9 1225.2,247.8 1225.3,246.6 1225.4,245.4 1225.5,244.2 1225.7,243.0 1225.8,241.8 1225.9,240.5 1226.0,239.2 1226.2,238.0 1226.3,236.7 1226.4,235.4 1226.6,234.2 1226.7,232.9 1226.8,231.7 1227.0,230.4 1227.1,229.2 1227.2,228.0 1227.3,226.9 1227.5,225.7 1227.6,224.6 1227.8,223.3 1227.9,222.0 1228.1,220.8 1228.2,219.5 1228.4,218.4 1228.5,217.2 1228.7,216.1 1228.8,214.9 1229.0,213.8 1229.1,212.7 1229.3,211.5 1229.4,210.4 1229.6,209.2 1229.7,208.0 1229.9,206.7 1230.0,205.4 1230.2,204.1 1230.3,203.0 1230.4,201.8 1230.6,200.6 1230.7,199.4 1230.8,198.1 1230.9,196.8 1231.0,195.5 1231.2,194.1 1231.3,192.8 1231.4,191.5 1231.5,190.2 1231.6,188.9 1231.7,187.6 1231.9,186.3 1232.0,185.0 1232.1,183.8 1232.2,182.7 1232.3,181.5 1232.5,180.5 1232.6,179.5 1232.7,178.5 1233.0,176.7 1233.2,175.1 1233.4,173.6 1233.7,172.3 1233.9,171.1 1234.2,170.0 1234.4,168.9 1234.7,167.8 1235.0,166.7 1235.3,165.6 1235.7,164.3 1236.1,163.1 1236.5,161.8 1237.0,160.6 1237.4,159.4 1237.9,158.3 1238.3,157.3 1238.7,156.3 1239.1,155.4 1239.8,153.7 1240.4,152.4 1240.9,151.4 1241.5,150.9 1242.7,148.4 1243.8,149.3 1244.9,148.6 1246.0,150.5 1246.6,151.5 1247.2,152.7 1247.9,154.1 1248.5,155.5 1248.9,156.4 1249.3,157.3 1249.7,158.2 1250.1,159.2 1250.6,160.6 1251.2,162.3 1251.5,163.2 1251.8,164.2 1252.2,165.2 1252.6,166.4 1253.0,167.6 1253.4,168.8 1253.8,170.1 1254.3,171.4 1254.7,172.7 1255.1,174.0 1255.6,175.3 1256.0,176.6 1256.4,177.9 1256.8,179.1 1257.2,180.3 1257.6,181.6 1258.0,182.8 1258.5,184.1 1258.9,185.4 1259.3,186.7 1259.7,187.9 1260.1,189.2 1260.5,190.4 1260.9,191.6 1261.3,192.7 1261.7,193.9 1262.0,194.9 1262.3,195.9 1262.8,197.5 1263.2,198.8 1263.5,200.1 1263.8,201.2 1264.1,202.4 1264.4,203.5 1264.7,204.7 1265.0,206.0 1265.3,207.1 1265.5,208.2 1265.8,209.4 1266.0,210.5 1266.3,211.7 1266.5,212.9 1266.8,214.1 1267.1,215.4 1267.5,216.8 1267.9,218.2 1268.2,219.3 1268.5,220.4 1268.9,221.5 1269.3,222.7 1269.6,223.9 1270.0,225.2 1270.4,226.4 1270.9,227.7 1271.3,228.9 1271.7,230.2 1272.2,231.4 1272.6,232.6 1273.1,233.8 1273.5,235.0 1274.0,236.2 1274.5,237.3 1275.0,238.5 1275.5,239.6 1276.1,240.8 1276.6,242.0 1277.2,243.1 1277.7,244.2 1278.3,245.3 1278.8,246.4 1279.3,247.4 1279.7,248.4 1280.1,249.4 1280.5,250.3 1281.1,251.8 1281.5,253.2 1281.9,254.5 1282.2,255.7 1282.5,256.9 1282.7,257.9 1283.0,258.9 1283.3,259.8 1283.9,261.4 1284.5,262.4 1285.5,264.0 1286.0,264.8 1286.6,265.7 1287.2,266.7 1287.9,267.7 1288.6,268.8 1289.3,269.9 1290.1,271.1 1290.8,272.2 1291.5,273.3 1292.1,274.3 1292.8,275.3 1293.4,276.4 1294.0,277.5 1294.7,278.6 1295.3,279.6 1296.0,280.7 1296.6,281.6 1297.3,282.1 1298.0,283.6 1298.8,284.6 1299.6,285.7 1300.4,285.7 1301.3,287.9 1302.2,287.9 1303.0,288.9 1303.9,289.8 1304.7,290.2 1305.6,291.0 1306.5,292.4 1307.3,293.1 1308.2,293.6 1309.0,295.1 1309.9,295.3 1310.7,295.8 1311.6,297.0 1312.4,297.5 1313.3,298.5 1314.3,300.3 1315.2,300.6 1316.2,302.2 1317.2,302.8 1318.1,302.5 1319.1,304.8 1320.0,305.4 1321.0,304.7 1322.1,306.7 1323.2,306.6 1324.3,307.2 1325.4,308.5 1326.5,307.8 1327.6,308.7 1328.7,309.9 1329.8,310.1 1330.9,310.3 1332.0,311.7 1333.1,312.0 1334.2,312.2 1335.3,312.0 1336.4,313.3 1337.7,313.6 1339.0,313.8 1340.2,314.1 1341.5,315.4 1342.8,315.3 1344.1,316.3 1345.4,317.2 1346.7,317.4 1348.0,317.5 1349.3,318.6 1350.6,318.8 1351.8,319.9 1353.0,320.2 1354.1,321.7 1355.2,322.4 1356.3,322.8 1357.3,322.6 1358.2,322.7 1359.5,323.7 1360.6,322.7 1362.1,321.7 1363.1,321.1 1364.3,320.9 1365.6,321.5 1366.9,321.2 1368.3,321.2 1369.7,321.0 1371.0,320.9 1372.3,319.5 1373.7,319.1 1375.1,319.8 1376.5,319.3 1377.7,318.9 1378.7,317.5 1380.3,318.0 1381.3,319.5 1382.6,320.7 1383.8,321.3 1385.3,320.6 1386.8,321.4 1388.1,320.8 1389.0,321.5"/>
<path stroke="#ff0000" stroke-width="2.6" fill="none" stroke-linejoin="round" d="M1188.4,362.0 L1189.0,346.0M1189.6,336.0 L1190.1,319.0M1190.4,312.0 L1190.6,303.5M1191.2,318.0 L1191.6,334.0M1192.2,340.0 L1192.6,355.0M1193.4,338.9 L1199.7,342.4M1205.3,343.1 L1209.0,341.5 L1213.0,338.2M1216.3,326.4 L1217.9,314.2M1218.8,301.9 L1219.9,289.7M1220.8,276.5 L1221.8,264.4M1222.3,252.2 L1223.1,240.1M1223.6,227.0 L1224.6,214.9M1225.8,203.1 L1227.1,190.0M1228.1,178.8 L1229.0,165.8M1230.3,153.7 L1231.4,141.5M1232.6,130.0 L1234.7,117.6M1236.1,104.3 L1238.9,92.7M1243.5,82.3 L1246.9,85.6 L1250.8,91.3M1254.3,102.9 L1258.9,114.8M1261.5,126.4 L1265.2,137.6M1268.6,150.8 L1272.4,162.0M1275.9,174.0 L1278.8,186.1M1282.3,197.5 L1286.1,209.4M1289.4,221.0 L1295.0,232.3M1299.9,243.8 L1304.6,253.5M1309.7,263.1 L1314.9,272.7M1320.0,281.0 L1326.4,289.4M1332.8,293.2 L1341.3,300.4M1348.6,307.2 L1354.5,312.1M1359.6,316.4 L1365.5,316.4M1371.4,320.5 L1378.4,321.9M1388.6,323.6 L1389.9,324.8"/>
<text x="148.5" y="34.9" font-size="20" font-weight="bold" letter-spacing="0.42">Nd:YAG only</text>
<text x="175" y="165.9" font-size="20" font-weight="bold" letter-spacing="0.25">CO<tspan font-size="13" dy="6.7">2</tspan><tspan dy="-6.7"> only</tspan></text>
<text x="837" y="237.2" font-size="20" font-weight="bold" letter-spacing="0.45">slow peak</text>
<text x="1068.5" y="237.4" font-size="20" font-weight="bold" letter-spacing="0.35">slow peak</text>
<text x="1258" y="90" font-size="20" font-weight="bold" letter-spacing="0.5">Nd:YAG only</text>
<line x1="180.4" y1="41.0" x2="151.50" y2="104.15" stroke="#333" stroke-width="1.0"/><polygon points="148.5,110.7 150.06,101.52 154.43,103.52" fill="#000"/>
<line x1="198.7" y1="173.3" x2="131.18" y2="267.84" stroke="#333" stroke-width="1.0"/><polygon points="127.0,273.7 130.44,265.10 134.02,267.65" fill="#000"/>
<line x1="883.3" y1="260.7" x2="883.30" y2="276.80" stroke="#777" stroke-width="1.1"/><polygon points="883.3,284.0 880.60,275.00 886.00,275.00" fill="#000"/>
<line x1="1122" y1="260.5" x2="1122.00" y2="301.76" stroke="#aaa" stroke-width="1.3"/><polygon points="1122,308.8 1119.40,300.00 1124.60,300.00" fill="#000"/>
<line x1="1306.9" y1="95.6" x2="1276.40" y2="163.70" stroke="#444" stroke-width="1.0"/>
</svg>
</body></html>
